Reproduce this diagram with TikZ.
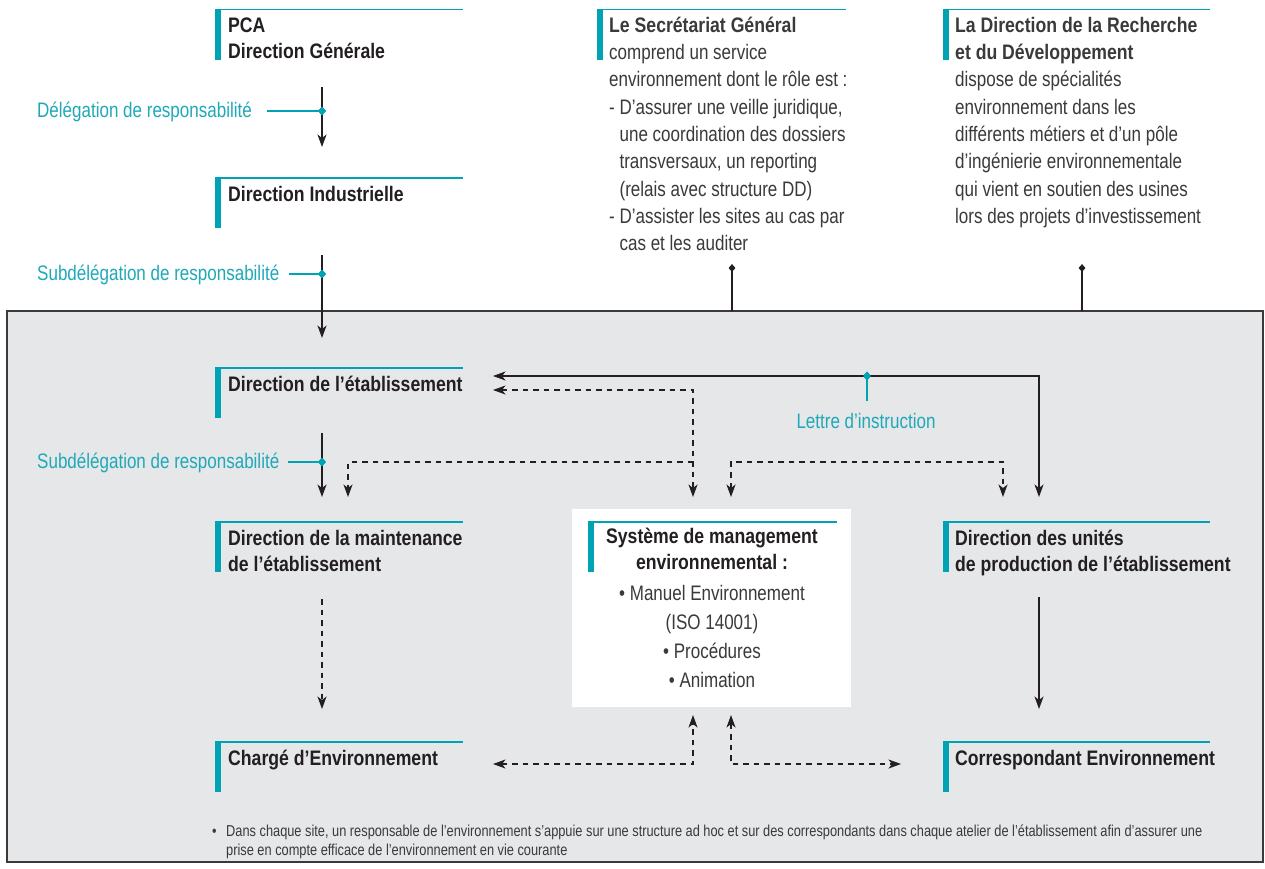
\documentclass[tikz,border=0pt]{standalone}
\usepackage{fontspec}
\setmainfont{Liberation Sans}[UprightFeatures={FakeStretch=0.81},BoldFeatures={FakeStretch=0.84}]
\usetikzlibrary{arrows.meta,shapes.geometric}
\definecolor{teal1}{HTML}{00A3B4}
\definecolor{tealtxt}{HTML}{1FA9B8}
\definecolor{bggray}{HTML}{E6E7E9}
\definecolor{ink}{HTML}{231F20}
\definecolor{bodyink}{HTML}{3A3A3A}
\definecolor{framec}{HTML}{3A3A3A}
\newcommand\tp{\rule{0pt}{20pt}}
\newcommand\hdrdeco[3]{%
  \fill[teal1] (#1,#2) rectangle ++(5.5,51);
  \draw[teal1, line width=1.7pt] (#1,#2+0.85) -- ++(#3,0);
}
\tikzset{
  hdr/.style={anchor=north west, inner sep=0pt, align=left, text=ink,
    font=\fontsize{21}{26.5}\selectfont\bfseries},
  bodytxt/.style={anchor=north west, inner sep=0pt, align=left, text=bodyink,
    font=\fontsize{21}{27.3}\selectfont},
  lbl/.style={anchor=base west, inner sep=0pt, text=tealtxt,
    font=\fontsize{21}{27}\selectfont},
  conn/.style={draw=ink, line width=1.1pt},
  dsh/.style={conn, dash pattern=on 5.5pt off 5pt},
  tips/.style={arrows={-Stealth[length=12.5pt,width=9pt,inset=3.5pt]}},
  tipsboth/.style={arrows={Stealth[length=12.5pt,width=9pt,inset=3.5pt]-Stealth[length=12.5pt,width=9pt,inset=3.5pt]}},
  tealdmd/.style={shape=diamond, fill=teal1, inner sep=0pt, minimum width=8pt, minimum height=9pt},
  blackdmd/.style={shape=diamond, fill=ink, inner sep=0pt, minimum width=7pt, minimum height=8pt},
  tealline/.style={draw=teal1, line width=1.3pt},
}
\begin{document}
\begin{tikzpicture}[x=1pt,y=-1pt]
\useasboundingbox (0,0) rectangle (1265,868);
\fill[white] (0,0) rectangle (1265,868);

% grey area
\path[fill=bggray, draw=framec, line width=1.2pt] (7,311) rectangle (1263,862);
\fill[white] (572,509) rectangle (851,707);

% header decorations
\hdrdeco{215}{8.5}{248}
\hdrdeco{215}{177}{248}
\hdrdeco{597}{8.5}{249}
\hdrdeco{943}{8.5}{267}
\hdrdeco{215}{367}{248}
\hdrdeco{215}{521}{248}
\hdrdeco{588}{521}{249}
\hdrdeco{943}{521}{267}
\hdrdeco{215}{741}{248}
\hdrdeco{943}{741}{267}

% nodes
\node[hdr] (pca) at (228,12) {\tp PCA\\Direction Générale};
\node[hdr] (dind) at (228,181) {\tp Direction Industrielle};
\node[bodytxt] (sg) at (609,12) {\tp\textbf{Le Secrétariat Général}\\
comprend un service\\
environnement dont le rôle est :\\
- D’assurer une veille juridique,\\
\phantom{- }une coordination des dossiers\\
\phantom{- }transversaux, un reporting\\
\phantom{- }(relais avec structure DD)\\
- D’assister les sites au cas par\\
\phantom{- }cas et les auditer};
\node[bodytxt] (rd) at (955,12) {\tp\textbf{La Direction de la Recherche}\\
\textbf{et du Développement}\\
dispose de spécialités\\
environnement dans les\\
différents métiers et d’un pôle\\
d’ingénierie environnementale\\
qui vient en soutien des usines\\
lors des projets d’investissement};
\node[hdr] (detab) at (228,371) {\tp Direction de l’établissement};
\node[hdr] (dmaint) at (228,525) {\tp Direction de la maintenance\\de l’établissement};
\node[hdr, anchor=north, align=center] (sms) at (712,523) {\tp Système de management\\environnemental :};
\node[bodytxt, anchor=north, align=center, font=\fontsize{21}{29}\selectfont] (smslist) at (712,580)
  {\tp• Manuel Environnement\\(ISO 14001)\\• Procédures\\• Animation};
\node[hdr] (dunit) at (955,525) {\tp Direction des unités\\de production de l’établissement};
\node[hdr] (charge) at (228,745) {\tp Chargé d’Environnement};
\node[hdr] (corresp) at (955,745) {\tp Correspondant Environnement};

% labels
\node[lbl] (ldel) at (37,117) {Délégation de responsabilité};
\node[lbl] (lsub1) at (37,280) {Subdélégation de responsabilité};
\node[lbl] (lsub2) at (37,468) {Subdélégation de responsabilité};
\node[lbl, anchor=base] (llet) at (866,428) {Lettre d’instruction};

% diamonds
\node[tealdmd] (d1) at (322,111) {};
\node[tealdmd] (d2) at (322,274) {};
\node[tealdmd] (d3) at (322,462) {};
\node[tealdmd] (d4) at (867,376) {};
\node[blackdmd] (b1) at (732,268) {};
\node[blackdmd] (b2) at (1082,268) {};

% coordinates
\coordinate (a1s) at (322,87);   \coordinate (a1e) at (322,147);
\coordinate (a2s) at (322,255);  \coordinate (a2e) at (322,338);
\coordinate (a3s) at (322,433);  \coordinate (a3e) at (322,497);
\coordinate (frameSG) at (732,311);
\coordinate (frameRD) at (1082,311);

% main vertical arrows
\draw[conn,tips] (a1s) -- (a1e);
\draw[conn,tips] (a2s) -- (a2e);
\draw[conn,tips] (a3s) -- (a3e);
\draw[tealline] ([xshift=15pt]ldel.east |- d1) -- (d1.center);
\draw[tealline] ([xshift=9pt]lsub1.east |- d2) -- (d2.center);
\draw[tealline] ([xshift=8pt]lsub2.east |- d3) -- (d3.center);
\node[tealdmd] at (d1) {};
\node[tealdmd] at (d2) {};
\node[tealdmd] at (d3) {};

% SG and RD connectors
\draw[conn] (b1.center) -- (frameSG);
\draw[conn] (b2.center) -- (frameRD);

% Lettre d'instruction
\draw[conn,tipsboth] (493,376) -- (1039,376) -- (1039,497);
\draw[tealline] (d4.center) -- (867,401);
\node[tealdmd] at (d4) {};

% dashed links
\draw[dsh,tipsboth] (493,390) -| (693,497);
\draw[dsh,tips] (693,462) -| (348,497);
\draw[dsh,tipsboth] (731,497) -- (731,462) -- (1003,462) -- (1003,497);

% lower arrows
\draw[dsh,tips] (322,599) -- (322,709);
\draw[conn,tips] (1039,597) -- (1039,709);
\draw[dsh,tipsboth] (493,764) -| (693,715);
\draw[dsh,tipsboth] (731,715) |- (901,764);

% footnote
\node[anchor=north west, inner sep=0pt, align=left, text=bodyink,
  font=\fontsize{15.8}{18.5}\selectfont] (foot) at (212,822)
  {\rule{0pt}{14.5pt}\makebox[14pt][l]{•}Dans chaque site, un responsable de l’environnement s’appuie sur une structure ad hoc et sur des correspondants dans chaque atelier de l’établissement afin d’assurer une\\
  \hspace*{14pt}prise en compte efficace de l’environnement en vie courante};
\end{tikzpicture}
\end{document}
